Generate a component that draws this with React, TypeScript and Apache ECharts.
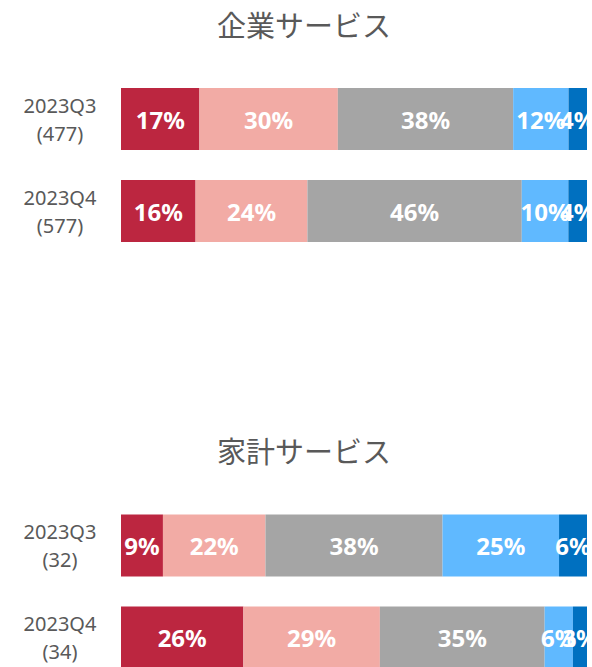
import React, { useEffect, useRef } from "react";
import * as echarts from "echarts";

const periods = ["2023Q3", "2023Q4"];
const corpCounts = [477, 577];
const houseCounts = [32, 34];

const corpSeg1 = [17, 16];
const corpSeg2 = [30, 24];
const corpSeg3 = [38, 46];
const corpSeg4 = [12, 10];
const corpSeg5 = [4, 4];

const houseSeg1 = [9, 26];
const houseSeg2 = [22, 29];
const houseSeg3 = [38, 35];
const houseSeg4 = [25, 6];
const houseSeg5 = [6, 3];

const titles = ["企業サービス", "家計サービス"];
const colors = ["#BC2640", "#F2ABA5", "#A5A5A5", "#60B9FF", "#0070C0"];

const FONT = "'Noto Sans', 'Noto Sans CJK JP', sans-serif";

function buildSeries(segs: number[][], gridIndex: number) {
  const sums = segs[0].map((_, i) => segs.reduce((a, s) => a + s[i], 0));
  return segs.map((seg, k) => ({
    type: "bar",
    name: `g${gridIndex}s${k}`,
    stack: `stack${gridIndex}`,
    xAxisIndex: gridIndex,
    yAxisIndex: gridIndex,
    barWidth: 62,
    itemStyle: { color: colors[k] },
    data: seg.map((v, i) => (v / sums[i]) * 100),
    label: {
      show: true,
      position: "inside",
      color: "#FFFFFF",
      fontWeight: "bold",
      fontSize: 24,
      fontFamily: FONT,
      formatter: (p: any) => `${seg[p.dataIndex]}%`,
    },
  }));
}

export default function App() {
  const ref = useRef<HTMLDivElement>(null);
  useEffect(() => {
    if (!ref.current) return;
    const chart = echarts.init(ref.current, undefined, { renderer: "svg" });
    const yCat = (counts: number[]) => periods.map((p, i) => `${p}\n(${counts[i]})`);
    const mkY = (idx: number, counts: number[]) => ({
      type: "category",
      gridIndex: idx,
      data: yCat(counts),
      inverse: true,
      axisLine: { show: false },
      axisTick: { show: false },
      axisLabel: {
        color: "#595959",
        fontSize: 20,
        lineHeight: 28,
        fontFamily: FONT,
        align: "center",
        margin: 61,
      },
    });
    const mkX = (idx: number) => ({
      type: "value",
      gridIndex: idx,
      min: 0,
      max: 100,
      show: false,
    });
    chart.setOption({
      animation: false,
      grid: [
        { left: 121, width: 466, top: 73, height: 184 },
        { left: 121, width: 466, top: 499.5, height: 184 },
      ],
      xAxis: [mkX(0), mkX(1)],
      yAxis: [mkY(0, corpCounts), mkY(1, houseCounts)],
      graphic: [
        {
          type: "text",
          x: 304,
          y: 24,
          style: {
            text: titles[0],
            fontSize: 29,
            fill: "#595959",
            align: "center",
            verticalAlign: "middle",
            fontFamily: "'Noto Sans CJK JP', sans-serif",
          },
        },
        {
          type: "text",
          x: 304,
          y: 450,
          style: {
            text: titles[1],
            fontSize: 29,
            fill: "#595959",
            align: "center",
            verticalAlign: "middle",
            fontFamily: "'Noto Sans CJK JP', sans-serif",
          },
        },
      ],
      series: [
        ...buildSeries([corpSeg1, corpSeg2, corpSeg3, corpSeg4, corpSeg5], 0),
        ...buildSeries([houseSeg1, houseSeg2, houseSeg3, houseSeg4, houseSeg5], 1),
      ],
    });
    return () => chart.dispose();
  }, []);
  return (
    <div style={{ position: "fixed", left: 0, top: 0, width: 592, height: 667, overflow: "hidden", background: "#fff" }}>
      <div ref={ref} style={{ width: 592, height: 720 }} />
    </div>
  );
}
